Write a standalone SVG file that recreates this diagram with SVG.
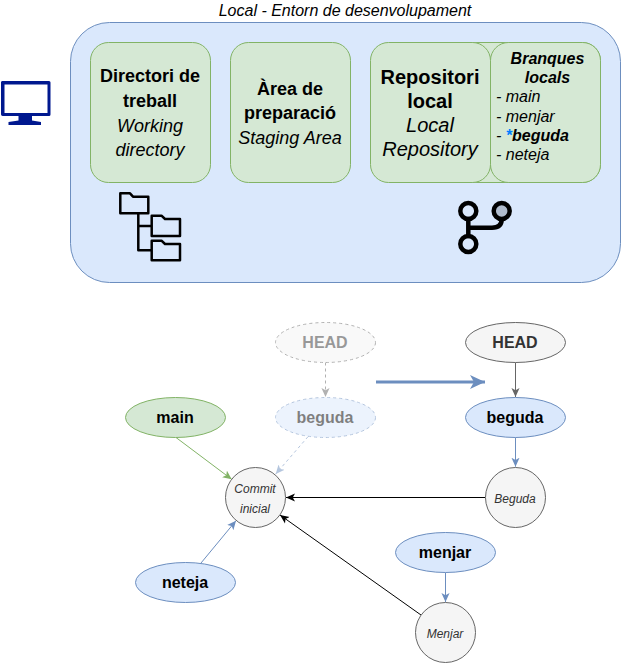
<svg xmlns="http://www.w3.org/2000/svg" width="621" height="663" viewBox="0 0 621 663">
<style>
text{font-family:"Liberation Sans",Arial,sans-serif;text-anchor:middle;fill:#000}
.b{font-weight:bold}.i{font-style:italic}
.g{fill:#d5e8d4;stroke:#82b366}
.bl{fill:#dae8fc;stroke:#6c8ebf}
.gr{fill:#f5f5f5;stroke:#666}
.t16{font-size:16px}.t18{font-size:18px}.t20{font-size:20px}.t12{font-size:12px}
.dk{fill:#333}.st{text-anchor:start}
.ico{fill:none;stroke:#000;stroke-linejoin:round;stroke-linecap:round}
</style>
<defs>
<marker id="ab" viewBox="0 0 10 10" refX="10" refY="5" markerWidth="9" markerHeight="9" markerUnits="userSpaceOnUse" orient="auto"><path d="M0 0.500L10 5L0 9.500L2.500 5Z" fill="#6c8ebf"/></marker>
<marker id="abig" viewBox="0 0 15 14" refX="15" refY="7" markerWidth="15" markerHeight="14" markerUnits="userSpaceOnUse" orient="auto"><path d="M0 0L15 7L0 14L4 7Z" fill="#6c8ebf"/></marker>
<marker id="ag" viewBox="0 0 10 10" refX="10" refY="5" markerWidth="9" markerHeight="9" markerUnits="userSpaceOnUse" orient="auto"><path d="M0 0.500L10 5L0 9.500L2.500 5Z" fill="#82b366"/></marker>
<marker id="agr" viewBox="0 0 10 10" refX="10" refY="5" markerWidth="9" markerHeight="9" markerUnits="userSpaceOnUse" orient="auto"><path d="M0 0.500L10 5L0 9.500L2.500 5Z" fill="#666"/></marker>
<marker id="ak" viewBox="0 0 10 10" refX="10" refY="5" markerWidth="9" markerHeight="9" markerUnits="userSpaceOnUse" orient="auto"><path d="M0 0.500L10 5L0 9.500L2.500 5Z" fill="#000"/></marker>
</defs>
<g id="local-env">
<rect class="bl" x="70.500" y="22.500" width="550" height="260" rx="39"/>
<text class="i t16" x="345" y="16">Local - Entorn de desenvolupament</text>
</g>
<g id="computer">
<path d="M3 81H49a1.500 1.500 0 0 1 1.500 1.500V114.500a1.500 1.500 0 0 1-1.500 1.500H32V120.500L41 122V125H8.500V122L18.500 120.500V116H3a2 2 0 0 1-2-1.500V82.500a1.500 1.500 0 0 1 2-1.500ZM4.500 84.500V113H47.500V84.500Z" fill="#00188f" fill-rule="evenodd"/>
</g>
<g id="working-dir">
<rect class="g" x="90.500" y="42.500" width="120" height="140" rx="18"/>
<text class="b t18" x="150" y="82">Directori de</text>
<text class="b t18" x="150" y="107">treball</text>
<text class="i t18" x="150" y="132">Working</text>
<text class="i t18" x="150" y="156">directory</text>
<path class="ico" stroke-width="2.500" d="M120.300 193.300H130L133 196.700H148.300V213.300H120.300ZM138.300 213.300V250.300H151.700M138.300 226H151.700M151.700 215.700H161.500L165 219H180V236H151.700ZM151.700 240.700H161.500L165 244H180V260.300H151.700Z"/>
</g>
<g id="staging">
<rect class="g" x="230.500" y="42.500" width="120" height="140" rx="18"/>
<text class="b t18" x="290" y="95">Àrea de</text>
<text class="b t18" x="290" y="119">preparació</text>
<text class="i t18" x="290" y="144">Staging Area</text>
</g>
<g id="branches">
<rect class="g" x="450.500" y="42.500" width="150" height="140" rx="18"/>
<rect class="g" x="490.500" y="42.500" width="110" height="140" rx="18"/>
<text class="b i t16" x="547.500" y="64">Branques</text>
<text class="b i t16" x="547.500" y="83">locals</text>
<text class="i t16 st" x="496" y="102">- main</text>
<text class="i t16 st" x="496" y="122">- menjar</text>
<text class="i t16 st" x="496" y="141">- <tspan class="b" style="fill:#007fff">*</tspan><tspan class="b">beguda</tspan></text>
<text class="i t16 st" x="496" y="160">- neteja</text>
</g>
<g id="repository">
<rect class="g" x="370.500" y="42.500" width="120" height="140" rx="18"/>
<text class="b t20" x="430" y="84">Repositori</text>
<text class="b t20" x="430" y="108">local</text>
<text class="i t20" x="430" y="132">Local</text>
<text class="i t20" x="430" y="156">Repository</text>
<path class="ico" stroke-width="4.500" d="M468.300 219V236M468.300 227.700H492Q501.700 227.700 501.700 219"/>
<circle class="ico" stroke-width="4.500" cx="468.300" cy="211" r="8"/>
<circle class="ico" stroke-width="4.500" cx="468.300" cy="244" r="8"/>
<circle cx="501.700" cy="211" r="8" fill="#b0bccd" stroke="#000" stroke-width="4.500"/>
</g>
<g id="connectors" fill="none">
<path d="M325.500 362.500V397" stroke="#666" stroke-dasharray="3 3" opacity="0.5" marker-end="url(#agr)"/>
<path d="M308 436.700L275.700 474" stroke="#6c8ebf" stroke-dasharray="3 3" opacity="0.5" marker-end="url(#ab)"/>
<path d="M176 437.500L231.700 479.300" stroke="#82b366" marker-end="url(#ag)"/>
<path d="M201 563L236 520.700" stroke="#6c8ebf" marker-end="url(#ab)"/>
<path d="M376 382H485" stroke="#6c8ebf" stroke-width="3" marker-end="url(#abig)"/>
<path d="M515.500 362.500V397" stroke="#666" marker-end="url(#agr)"/>
<path d="M515.500 437.500V466.700" stroke="#6c8ebf" marker-end="url(#ab)"/>
<path d="M485.500 497.500H286" stroke="#000" marker-end="url(#ak)"/>
<path d="M421 615L280 515" stroke="#000" marker-end="url(#ak)"/>
<path d="M445.500 572.500V602" stroke="#6c8ebf" marker-end="url(#ab)"/>
</g>
<g id="head-old" opacity="0.5">
<ellipse class="gr" cx="325.500" cy="342.500" rx="50" ry="20" stroke-dasharray="3 3"/>
<text class="b t16 dk" x="325" y="348">HEAD</text>
</g>
<g id="beguda-old" opacity="0.5">
<ellipse class="bl" cx="325.500" cy="417.500" rx="50" ry="20" stroke-dasharray="3 3"/>
<text class="b t16" x="325" y="423">beguda</text>
</g>
<g id="main"><ellipse class="g" cx="175.500" cy="417.500" rx="50" ry="20"/><text class="b t16" x="175" y="423">main</text></g>
<g id="neteja"><ellipse class="bl" cx="185.500" cy="582.500" rx="50" ry="20"/><text class="b t16" x="185" y="588">neteja</text></g>
<g id="head"><ellipse class="gr" cx="515.500" cy="342.500" rx="50" ry="20"/><text class="b t16 dk" x="515" y="348">HEAD</text></g>
<g id="beguda"><ellipse class="bl" cx="515.500" cy="417.500" rx="50" ry="20"/><text class="b t16" x="515" y="423">beguda</text></g>
<g id="menjar"><ellipse class="bl" cx="445.500" cy="552.500" rx="50" ry="20"/><text class="b t16" x="445" y="558">menjar</text></g>
<g id="commit-inicial"><circle class="gr" cx="255.500" cy="497.500" r="30"/><text class="i t12 dk" x="255" y="493">Commit</text><text class="i t12 dk" x="255" y="513">inicial</text></g>
<g id="commit-beguda"><circle class="gr" cx="515.500" cy="497.500" r="30"/><text class="i t12 dk" x="515" y="503">Beguda</text></g>
<g id="commit-menjar"><circle class="gr" cx="445.500" cy="632.500" r="30"/><text class="i t12 dk" x="445" y="638">Menjar</text></g>
</svg>
